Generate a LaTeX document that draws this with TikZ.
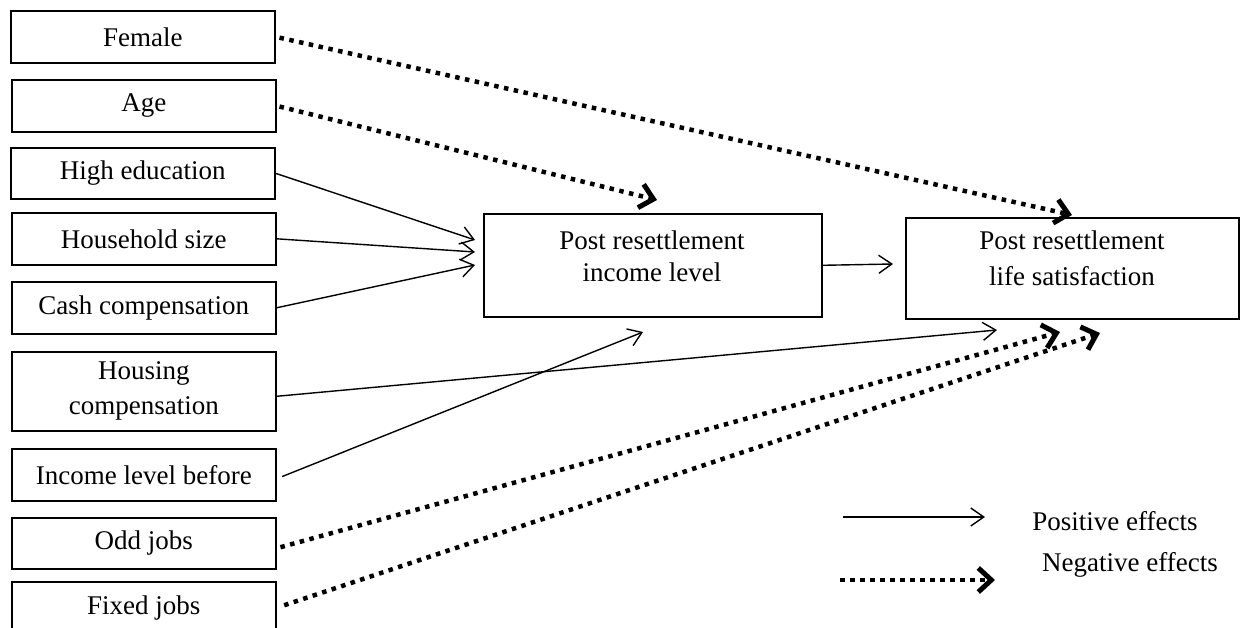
\documentclass[tikz,border=0pt]{standalone}
\usepackage{fontspec}
\setmainfont{Liberation Serif}
\usetikzlibrary{arrows.meta,calc}
\begin{document}
\begin{tikzpicture}[x=1pt,y=-1pt,
  box/.style={draw, line width=1.6pt, minimum width=264pt, minimum height=52pt, inner sep=0pt,
    anchor=north west, align=center, font=\fontsize{27}{35}\selectfont},
  bigbox/.style={draw, line width=1.6pt, inner sep=0pt, anchor=north west},
  posarrow/.style={line width=1.4pt, -{Straight Barb[length=13pt,width=18pt,line width=1.4pt]}},
  negarrow/.style={line width=4.5pt, dash pattern=on 4.5pt off 5.5pt,
    -{Straight Barb[length=13pt,width=24pt,line width=5pt]}},
  lbl/.style={font=\fontsize{27}{32}\selectfont, inner sep=0pt, align=center}]
\useasboundingbox (0,0) rectangle (1240,628);
\clip (0,0) rectangle (1240,628);
\fill[white] (0,0) rectangle (1240,628);

% left boxes
\node[box] (fem)  at (10,10)  {Female};
\node[box] (age)  at (11,79)  {Age};
\node[box, minimum height=51pt] (edu) at (10,147) {High education};
\node[box] (hh)   at (11,212) {Household size};
\node[box] (cash) at (11,281) {Cash compensation};
\node[box, minimum height=79pt] (hous) at (11,351) {Housing\\compensation};
\node[box] (incb) at (11,448) {Income level before};
\node[box, minimum height=51pt] (odd)  at (11,517) {Odd jobs};
\node[box] (fix)  at (11,581) {Fixed jobs};

% outcome boxes
\node[bigbox, minimum width=338pt, minimum height=103pt] (inc) at (483,213) {};
\node[lbl] (inct) at (652,256) {Post resettlement\\income level};
\node[bigbox, minimum width=333pt, minimum height=101pt] (life) at (905,217) {};
\node[lbl, font=\fontsize{27}{36}\selectfont] (lifet) at (1072,258) {Post resettlement\\life satisfaction};

% arrow end points
\coordinate (tfem)  at (1072,215);
\coordinate (tage)  at (657,200);
\coordinate (tedu)  at (475,240);
\coordinate (thh)   at (475,252);
\coordinate (tcash) at (475,265);
\coordinate (thous) at (997,330);
\coordinate (tincb) at (643,332);
\coordinate (todd)  at (1060,332);
\coordinate (tfix)  at (1100,333);
\coordinate (tlife) at (893,264);

% connectors
\draw[negarrow, shorten <=4pt] (fem.east) -- (tfem);
\draw[negarrow, shorten <=3pt] (age.east) -- (tage);
\draw[posarrow] (edu.east) -- (tedu);
\draw[posarrow] (hh.east) -- (thh);
\draw[posarrow] (cash.east) -- (tcash);
\draw[posarrow] ($(hous.east)+(0,5)$) -- (thous);
\draw[posarrow, shorten <=6pt] ($(incb.east)+(0,4)$) -- (tincb);
\draw[negarrow, shorten <=4pt] ($(odd.east)+(0,5)$) -- (todd);
\draw[negarrow, shorten <=8pt] (fix.east) -- (tfix);
\draw[posarrow] (inc.east) -- (tlife);

% legend
\coordinate (lpa) at (843,517);
\coordinate (lpb) at (985,517);
\coordinate (lna) at (840,580);
\coordinate (lnb) at (995,580);
\draw[posarrow] (lpa) -- (lpb);
\draw[negarrow] (lna) -- (lnb);
\node[lbl] (lpos) at (1115,521) {Positive effects};
\node[lbl] (lneg) at (1130,565) {Negative effects};
\end{tikzpicture}
\end{document}
